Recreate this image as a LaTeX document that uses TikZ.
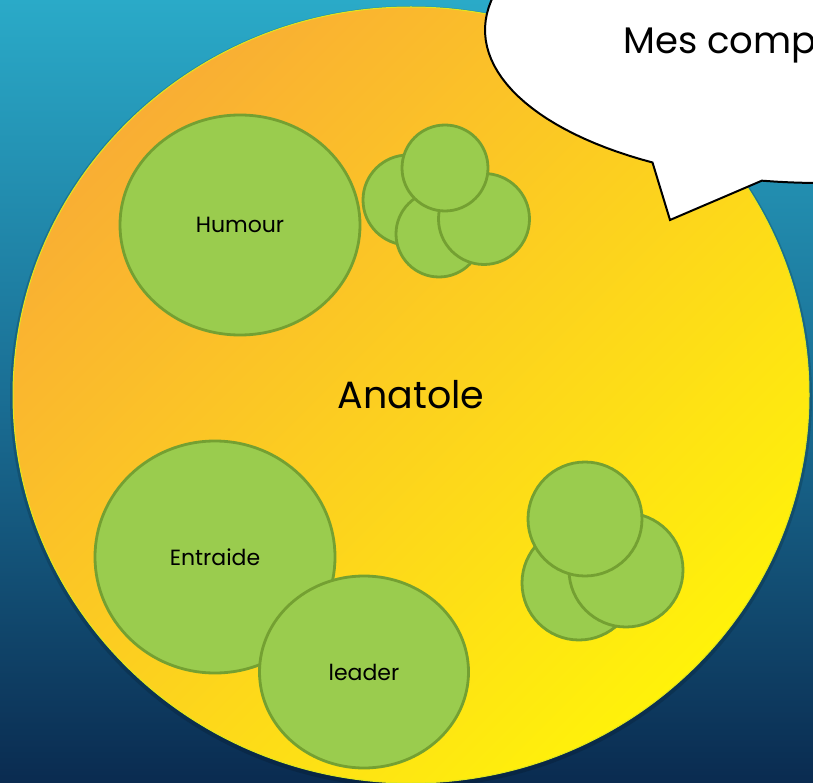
\documentclass[tikz,border=0pt]{standalone}
\usepackage{fontspec}
\setmainfont{Poppins}
\usetikzlibrary{shapes.geometric}

\definecolor{bgtop}{HTML}{2AAAC8}
\definecolor{bgmid}{HTML}{1A6F95}
\definecolor{bgbot}{HTML}{0A2B50}
\definecolor{orangeA}{HTML}{F9AE34}
\definecolor{yellowA}{HTML}{FFF20A}
\definecolor{leaf}{HTML}{9ACC4E}
\definecolor{leafline}{HTML}{74A032}

\tikzset{
  skill/.style={ellipse, fill=leaf, draw=leafline, line width=2.8pt, inner sep=0pt,
    font=\fontsize{22}{26}\selectfont},
  pea/.style={circle, fill=leaf, draw=leafline, line width=2.8pt, inner sep=0pt}
}

\begin{document}
\begin{tikzpicture}[x=1pt,y=-1pt]
\useasboundingbox (0,0) rectangle (813,783);
\clip (0,0) rectangle (813,783);
% fond
\fill[top color=bgtop, bottom color=bgbot, middle color=bgmid] (0,0) rectangle (813,783);
\fill[black, opacity=0.15] (411,397) ellipse [x radius=401, y radius=391];
% le grand disque
\node (anatole) at (411,395) [ellipse, minimum width=796pt, minimum height=776pt, inner sep=0pt,
  top color=orangeA, bottom color=yellowA, shading angle=45, draw=yellowA!70!leaf, line width=1pt,
  font=\fontsize{38}{44}\selectfont] {Anatole};
% competences
\node (humour) at (240,225) [skill, minimum width=240pt, minimum height=220pt] {Humour};
\node (p1) at (408,200) [pea, minimum size=90pt] {};
\node (p2) at (439,234) [pea, minimum size=86pt] {};
\node (p3) at (484,219) [pea, minimum size=91pt] {};
\node (p4) at (445,168) [pea, minimum size=86pt] {};
\node (entraide) at (215,557) [skill, minimum width=240pt, minimum height=232pt] {Entraide};
\node (leader) at (364,672) [skill, minimum width=209pt, minimum height=192pt] {leader};
\node (q1) at (579,583) [pea, minimum size=114pt] {};
\node (q2) at (626,570) [pea, minimum size=114pt] {};
\node (q3) at (585,519) [pea, minimum size=114pt] {};
% la bulle
\draw[fill=white, line width=2pt, line join=miter]
  (670,220) -- plot[domain=100:-240, samples=140] ({820+335*cos(\x)},{30+153*sin(\x)}) -- cycle;
\node (talk) at (620,54) [anchor=base west, font=\fontsize{37}{44}\selectfont] {Mes compétences};
\end{tikzpicture}
\end{document}
